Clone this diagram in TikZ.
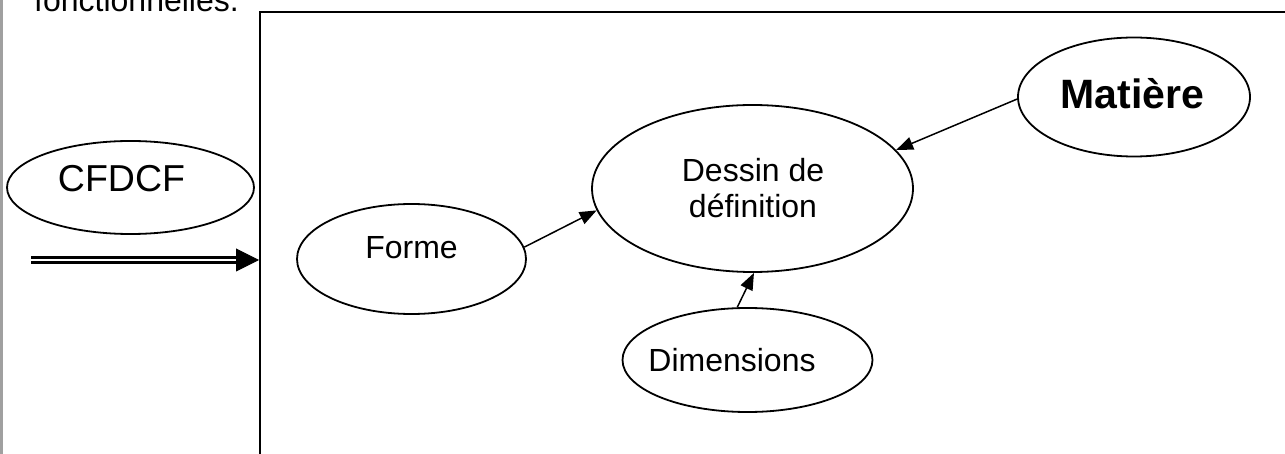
\documentclass[tikz,border=0pt]{standalone}
\usepackage{fontspec}
\setmainfont{Liberation Sans}
\usetikzlibrary{shapes.geometric,arrows.meta}
\definecolor{margebar}{HTML}{A0A0A0}
\tikzset{
  bulle/.style={ellipse,draw=black,line width=1.8pt,inner sep=0pt},
  texte/.style={inner sep=0pt,anchor=base,font=\fontsize{32}{36}\selectfont},
  fleche/.style={-{Triangle[length=17pt,width=13pt]},line width=1.5pt},
}
\begin{document}
\begin{tikzpicture}[x=1pt,y=-1pt]
\useasboundingbox (0,0) rectangle (1285,454);
\clip (0,0) rectangle (1285,454);
\fill[white] (0,0) rectangle (1285,454);
% page margin strip on the left
\fill[margebar] (0,0) rectangle (3.3,454);
% end of the preceding sentence
\node[texte,anchor=base west] (phrase) at (34,12) {fonctionnelles.};
% frame holding the diagram
\node[draw=black,line width=1.6pt,minimum width=1100pt,minimum height=500pt,inner sep=0pt,anchor=north west] (cadre) at (259,11) {};
% ellipses
\node[bulle,minimum width=247pt,minimum height=93pt] (cfdcf) at (130.5,187.5) {};
\node[bulle,minimum width=229pt,minimum height=110pt] (forme) at (411.5,259) {};
\node[bulle,minimum width=321pt,minimum height=167pt] (dessin) at (752.5,188.5) {};
\node[bulle,minimum width=232pt,minimum height=119pt] (matiere) at (1134,97) {};
\node[bulle,minimum width=250pt,minimum height=104pt] (dim) at (747.5,360) {};
% labels
\node[texte,font=\fontsize{37.5}{42}\selectfont] (tcfdcf) at (121.5,192) {CFDCF};
\node[texte] (tforme) at (411.5,259) {Forme};
\node[texte] (tdessin1) at (753,182) {Dessin de};
\node[texte] (tdessin2) at (753,218) {définition};
\node[texte,font=\fontsize{41}{46}\selectfont\bfseries] (tmatiere) at (1132.5,109) {Matière};
\node[texte] (tdim) at (732,371) {Dimensions};
% connectors
\draw[fleche] (forme.6) -- (dessin.188);
\draw[fleche] (matiere.181) -- (dessin.15);
\draw[fleche] (dim.101) -- (dessin.-89);
% double input arrow
\coordinate (dA) at (31,260);
\coordinate (dB) at (238,260);
\coordinate (dC) at (259,260);
\draw[line width=2.4pt,double=white,double distance=2.4pt] (dA) -- (dB);
\draw[-{Triangle[length=23pt,width=23pt]},line width=1pt] (dB) -- (dC);
\end{tikzpicture}
\end{document}
